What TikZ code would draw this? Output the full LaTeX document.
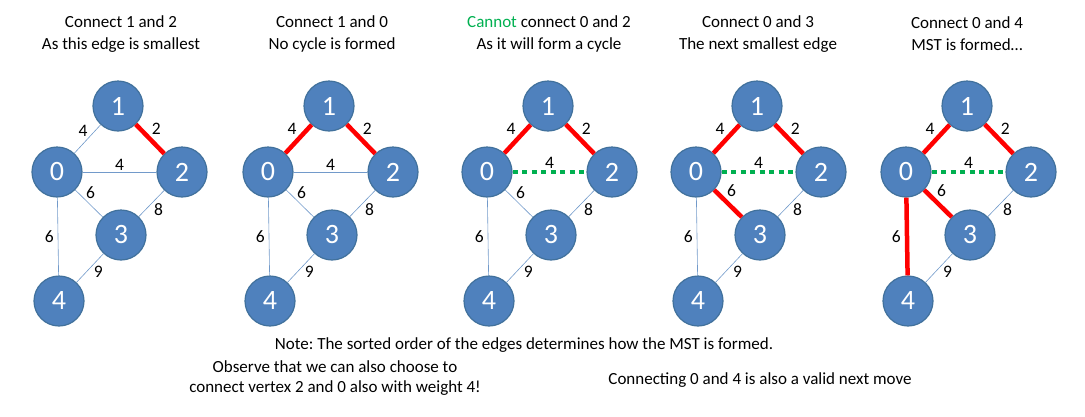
\documentclass[tikz,border=0pt]{standalone}
\usepackage{fontspec}
\setmainfont{Carlito}
\frenchspacing
\usetikzlibrary{positioning}
\definecolor{nodeblue}{HTML}{4F81BD}
\definecolor{nodeline}{HTML}{41719C}
\definecolor{mstred}{HTML}{FF0000}
\definecolor{cyclegreen}{HTML}{00B050}
\tikzset{
	vertex/.style={circle, fill=nodeblue, draw=nodeline, line width=1.2pt, minimum size=50pt, inner sep=0pt, text=white, font=\fontsize{28}{28}\selectfont},
	plain/.style={draw=nodeblue!80, line width=0.6pt},
	chosen/.style={draw=mstred, line width=4.5pt},
	rejected/.style={draw=cyclegreen, line width=4.5pt, dash pattern=on 5pt off 4.5pt},
	weight/.style={font=\fontsize{17.5}{17.5}\selectfont, inner sep=1pt},
	caption/.style={align=center, font=\fontsize{17}{22}\selectfont},
}
\begin{document}
\begin{tikzpicture}[x=1pt, y=-1pt]
	\useasboundingbox (0,0) rectangle (1085,416);
	
	% one panel per step
	\foreach \p/\sx/\ea/\eb/\ec/\ed in {1/0/plain/plain/plain/plain, 2/211/chosen/plain/plain/plain, 3/430/chosen/rejected/plain/plain, 4/639/chosen/rejected/chosen/plain, 5/849/chosen/rejected/chosen/chosen}{
		\begin{scope}[xshift=\sx]
			\node [vertex] (v\p-1) at (118,106) {1};
			\node [vertex] (v\p-0) at (57,172) {0};
			\node [vertex] (v\p-2) at (182,172) {2};
			\node [vertex] (v\p-3) at (121,235) {3};
			\node [vertex] (v\p-4) at (59,301) {4};
			
			\draw [\ea] (v\p-0) -- node [weight, above left, pos=0.55] {4} (v\p-1);
			\draw [chosen] (v\p-1) -- node [weight, above right, pos=0.45] {2} (v\p-2);
			\draw [\eb] (v\p-0) -- node [weight, above] {4} (v\p-2);
			\draw [\ec] (v\p-0) -- node [weight, above right, pos=0.35] {6} (v\p-3);
			\draw [plain] (v\p-2) -- node [weight, below right, pos=0.45] {8} (v\p-3);
			\draw [\ed] (v\p-0) -- node [weight, left=3pt] {6} (v\p-4);
			\draw [plain] (v\p-3) -- node [weight, below right, pos=0.4] {9} (v\p-4);
		\end{scope}
	}
	
	\node [caption] (title1) at (121,34) {Connect 1 and 2\\As this edge is smallest};
	\node [caption] (title2) at (332,34) {Connect 1 and 0\\No cycle is formed};
	\node [caption] (title3) at (549,34) {\textcolor{cyclegreen}{Cannot} connect 0 and 2\\As it will form a cycle};
	\node [caption] (title4) at (758,34) {Connect 0 and 3\\The next smallest edge};
	\node [caption] (title5) at (967,34) {Connect 0 and 4\\MST is formed\ldots};
	
	\node [caption] (note) at (524,345) {Note: The sorted order of the edges determines how the MST is formed.};
	\node [caption, font=\fontsize{17}{20}\selectfont] (observe) at (335,378) {Observe that we can also choose to\\connect vertex 2 and 0 also with weight 4!};
	\node [caption] (valid) at (760,380) {Connecting 0 and 4 is also a valid next move};
\end{tikzpicture}
\end{document}
